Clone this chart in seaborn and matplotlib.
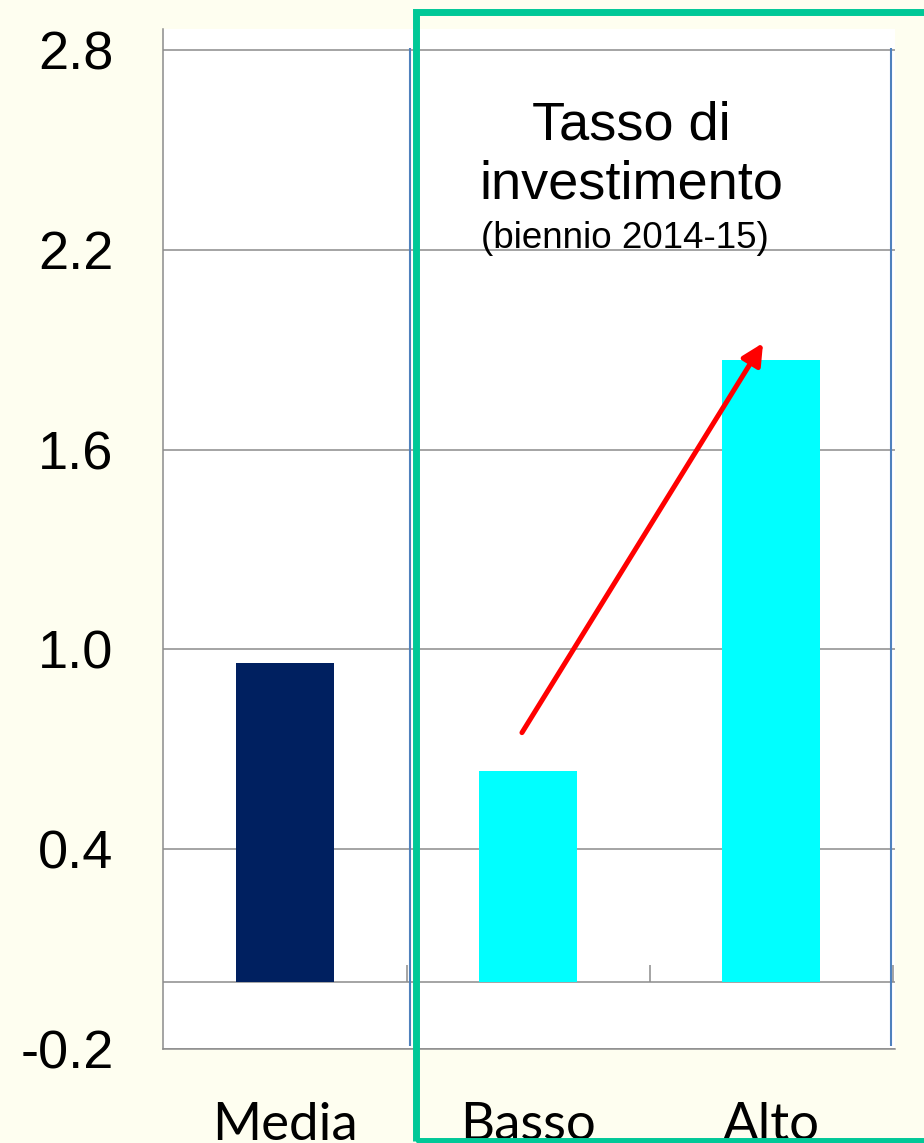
import matplotlib
matplotlib.use("Agg")
import matplotlib.pyplot as plt
import matplotlib.patches as mpatches
import seaborn as sns
import pandas as pd

# data
categories = ["Media", "Basso", "Alto"]
values = [0.96, 0.634, 1.868]
bar_colors = ["#002060", "#00FFFF", "#00FFFF"]
y_ticks = [-0.2, 0.4, 1.0, 1.6, 2.2, 2.8]
y_tick_labels = ["-0.2", "0.4", "1.0", "1.6", "2.2", "2.8"]

BG = "#FEFEF0"
GRID = "#8C8C8C"

sns.set_style("white")
plt.rcParams["font.family"] = ["Liberation Sans", "DejaVu Sans"]
plt.rcParams["text.color"] = "black"
plt.rcParams["xtick.color"] = "black"
plt.rcParams["ytick.color"] = "black"

df = pd.DataFrame({"cat": categories, "val": values})

fig = plt.figure(figsize=(9.24, 11.43), dpi=100, facecolor=BG)
ax = fig.add_axes([163 / 924, 1 - 1049 / 1143, (895 - 163) / 924, (1049 - 29) / 1143])
ax.set_facecolor("white")

sns.barplot(data=df, x="cat", y="val", hue="cat", palette=bar_colors, saturation=1,
            width=0.4, dodge=False, legend=False, ax=ax, linewidth=0, zorder=3)

ax.set_xlim(-0.502, 2.51)
ax.set_ylim(-0.2, 2.863)
ax.set_yticks(y_ticks)
ax.set_yticklabels(y_tick_labels, fontsize=39, color="black")
ax.yaxis.grid(True, color=GRID, lw=1.1, zorder=0)
ax.set_axisbelow(True)
ax.tick_params(axis="y", length=11.5, width=1.1, color=GRID, pad=24, direction="out",
               labelcolor="black")
ax.tick_params(axis="x", length=0, pad=38, labelcolor="black")
for lab in ax.get_xticklabels():
    lab.set_fontfamily(["Lato", "DejaVu Sans"])
    lab.set_fontsize(38)
ax.set_xlabel("")
ax.set_ylabel("")

for s in ["top", "right"]:
    ax.spines[s].set_visible(False)
for s in ["left", "bottom"]:
    ax.spines[s].set_color(GRID)
    ax.spines[s].set_linewidth(1.1)

# zero line with small category ticks
ax.axhline(0, color=GRID, lw=1.1, zorder=2)
ax.vlines([0.5, 1.5, 2.5], 0, 0.051, color=GRID, lw=1.1, zorder=2)

# thin blue separators
ax.vlines([0.516, 2.492], -0.192, 2.805, color="#4F81BD", lw=1.5, zorder=4, clip_on=False)

# annotation text
ax.text(1.425, 2.53, "Tasso di", ha="center", va="baseline", fontsize=39, color="black")
ax.text(1.425, 2.355, "investimento", ha="center", va="baseline", fontsize=39, color="black")
ax.text(1.40, 2.205, "(biennio 2014-15)", ha="center", va="baseline", fontsize=26.5,
        color="black")

# red arrow
ax.annotate("", xy=(1.967, 1.92), xytext=(0.975, 0.75),
            arrowprops=dict(arrowstyle="-|>", color="red", lw=3.6, mutation_scale=32,
                            shrinkA=0, shrinkB=0), zorder=5)

# green frame
fig.add_artist(mpatches.Rectangle((415.5 / 924, 1 - 1141 / 1143), 0.7, (1141 - 12) / 1143,
                                  transform=fig.transFigure, fill=False,
                                  edgecolor="#00C897", lw=5, clip_on=False, zorder=10))

fig.savefig("out.png", dpi=100, facecolor=BG)
